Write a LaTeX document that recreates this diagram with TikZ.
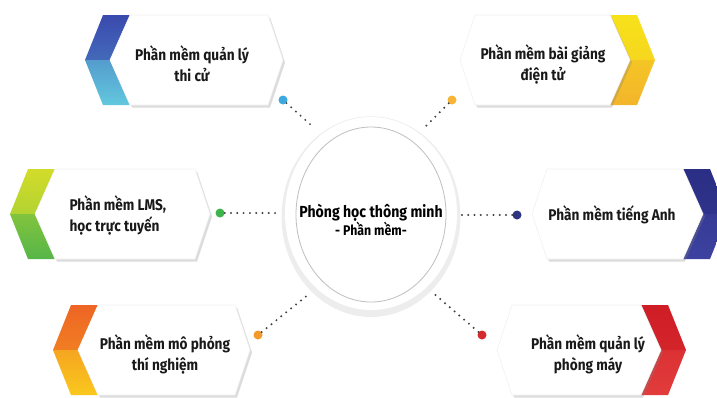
\documentclass[tikz,border=0pt]{standalone}
\usepackage{fontspec}
\setmainfont{Fira Sans}[FakeStretch=0.88]
\usetikzlibrary{shapes.geometric,shadows}

\definecolor{tlTop}{HTML}{3A4AAE}
\definecolor{tlBot}{HTML}{62C8DE}
\definecolor{trTop}{HTML}{F7E21A}
\definecolor{trBot}{HTML}{F3B52B}
\definecolor{mlTop}{HTML}{D2DC2A}
\definecolor{mlBot}{HTML}{56B648}
\definecolor{mrTop}{HTML}{2A2E84}
\definecolor{mrBot}{HTML}{3D42A0}
\definecolor{blTop}{HTML}{EE6524}
\definecolor{blBot}{HTML}{FAC81E}
\definecolor{brTop}{HTML}{CF1D25}
\definecolor{brBot}{HTML}{E23C3C}
\definecolor{dotTL}{HTML}{3EA9DE}
\definecolor{dotTR}{HTML}{F6B537}
\definecolor{dotML}{HTML}{3DB54A}
\definecolor{dotMR}{HTML}{2E3382}
\definecolor{dotBL}{HTML}{F29A2B}
\definecolor{dotBR}{HTML}{D32A2D}

\tikzset{
  card/.style={fill=white, draw=black!6, line width=0.6pt, line join=round,
    drop shadow={opacity=0.28, shadow xshift=2pt, shadow yshift=-2.5pt}},
  lbl/.style={font=\bfseries\fontsize{15.5}{21}\selectfont, align=center, text=black!90},
  pin/.style={circle, minimum size=9pt, inner sep=0pt},
  link/.style={line width=2.2pt, line cap=round, dash pattern=on 0pt off 6.3pt, black!75},
}

% card with the coloured chevron on its left: outer x, centre y, tip x, top colour, bottom colour
\newcommand{\leftcard}[5]{%
  \shade[top color=#4, bottom color=#4!75!#5] (#1,#2) -- (#1+18,#2-45) -- (#1+45,#2-45) -- (#1+25,#2) -- cycle;
  \shade[top color=#4!35!#5, bottom color=#5] (#1,#2) -- (#1+25,#2) -- (#1+45,#2+45) -- (#1+18,#2+45) -- cycle;
  \fill[card] (#1+25,#2) -- (#1+45,#2-45) -- (#3-15,#2-45) -- (#3,#2) -- (#3-15,#2+45) -- (#1+45,#2+45) -- cycle;
}
% card with the coloured chevron on its right: tip x, centre y, outer x, top colour, bottom colour
\newcommand{\rightcard}[5]{%
  \shade[top color=#4, bottom color=#4!75!#5] (#3-45,#2-45) -- (#3-18,#2-45) -- (#3,#2) -- (#3-25,#2) -- cycle;
  \shade[top color=#4!35!#5, bottom color=#5] (#3-25,#2) -- (#3,#2) -- (#3-18,#2+45) -- (#3-45,#2+45) -- cycle;
  \fill[card] (#1,#2) -- (#1+15,#2-45) -- (#3-45,#2-45) -- (#3-25,#2) -- (#3-45,#2+45) -- (#1+15,#2+45) -- cycle;
}

\begin{document}
\begin{tikzpicture}[x=1pt,y=-1pt]
    \useasboundingbox (0,0) rectangle (717,397);
    % cards
    \leftcard{85}{60}{283}{tlTop}{tlBot}
    \rightcard{460}{60}{655}{trTop}{trBot}
    \leftcard{10}{214}{210}{mlTop}{mlBot}
    \rightcard{532}{214}{728}{mrTop}{mrBot}
    \leftcard{53}{350}{250}{blTop}{blBot}
    \rightcard{497}{350}{686}{brTop}{brBot}

    \node[lbl] (qlthi) at (192,64) {Phần mềm quản lý\\thi cử};
    \node[lbl] (baigiang) at (543,64) {Phần mềm bài giảng\\điện tử};
    \node[lbl, align=left, anchor=west] (lms) at (66,215) {Phần mềm LMS,\\học trực tuyến};
    \node[lbl] (tienganh) at (612,215) {Phần mềm tiếng Anh};
    \node[lbl] (mophong) at (165,354) {Phần mềm mô phỏng\\thí nghiệm};
    \node[lbl] (phongmay) at (588,354) {Phần mềm quản lý\\phòng máy};

    % centre
    \node[ellipse, fill=white, minimum width=172pt, minimum height=193pt, inner sep=0pt,
          drop shadow={opacity=0.14, shadow scale=1.04, shadow xshift=0pt, shadow yshift=-3pt}] (hub) at (371,213.5) {};
    \draw[black!25, line width=0.8pt] (371,214.5) ellipse (75 and 87.5);
    \node[align=center, text=black] (hubtext) at (371,220)
      {{\bfseries\fontsize{16}{18}\selectfont Phòng học thông minh}\\[-1pt]
       {\bfseries\fontsize{14}{16}\selectfont - Phần mềm-}};

    % dots and links
    \node[pin, fill=dotTL] (pTL) at (283,100) {};
    \node[pin, fill=dotTR] (pTR) at (452,100) {};
    \node[pin, fill=dotML] (pML) at (220,213) {};
    \node[pin, fill=dotMR] (pMR) at (517,215) {};
    \node[pin, fill=dotBL] (pBL) at (258,335) {};
    \node[pin, fill=dotBR] (pBR) at (482,335) {};
    \coordinate (eTL) at (311,125);
    \coordinate (eTR) at (426,126);
    \coordinate (eML) at (278,213);
    \coordinate (eMR) at (459,215);
    \coordinate (eBL) at (309,294);
    \coordinate (eBR) at (432,292);
    \draw[link] (pTL) -- (eTL);
    \draw[link] (pTR) -- (eTR);
    \draw[link] (pML) -- (eML);
    \draw[link] (pMR) -- (eMR);
    \draw[link] (pBL) -- (eBL);
    \draw[link] (pBR) -- (eBR);
\end{tikzpicture}
\end{document}
